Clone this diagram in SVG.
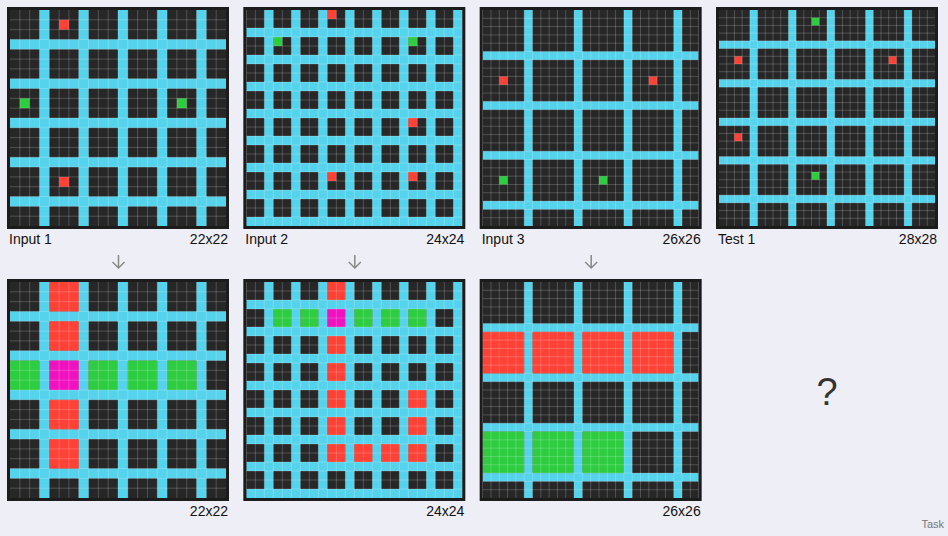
<svg xmlns="http://www.w3.org/2000/svg" xmlns:xlink="http://www.w3.org/1999/xlink" width="948" height="536" viewBox="0 0 948 536">
<style>
.bg{fill:#272727}
.c{fill:#56d3ec}
.r{fill:#ff4136}
.g{fill:#2ecc40}
.m{fill:#f012be}
.gl{fill:none;stroke:#ffffff;stroke-opacity:0.2;stroke-width:1;vector-effect:non-scaling-stroke}
.bd{fill:none;stroke:#1c1c1c;stroke-width:3}
.lbl{font-family:"Liberation Sans",Arial,sans-serif;font-size:14px;fill:#111111}
.arr{fill:none;stroke:#888888;stroke-width:1.5}
</style>
<defs>
<path id="gl22" class="gl" d="M1 0V22M2 0V22M3 0V22M4 0V22M5 0V22M6 0V22M7 0V22M8 0V22M9 0V22M10 0V22M11 0V22M12 0V22M13 0V22M14 0V22M15 0V22M16 0V22M17 0V22M18 0V22M19 0V22M20 0V22M21 0V22M0 1H22M0 2H22M0 3H22M0 4H22M0 5H22M0 6H22M0 7H22M0 8H22M0 9H22M0 10H22M0 11H22M0 12H22M0 13H22M0 14H22M0 15H22M0 16H22M0 17H22M0 18H22M0 19H22M0 20H22M0 21H22"/>
<path id="gl24" class="gl" d="M1 0V24M2 0V24M3 0V24M4 0V24M5 0V24M6 0V24M7 0V24M8 0V24M9 0V24M10 0V24M11 0V24M12 0V24M13 0V24M14 0V24M15 0V24M16 0V24M17 0V24M18 0V24M19 0V24M20 0V24M21 0V24M22 0V24M23 0V24M0 1H24M0 2H24M0 3H24M0 4H24M0 5H24M0 6H24M0 7H24M0 8H24M0 9H24M0 10H24M0 11H24M0 12H24M0 13H24M0 14H24M0 15H24M0 16H24M0 17H24M0 18H24M0 19H24M0 20H24M0 21H24M0 22H24M0 23H24"/>
<path id="gl26" class="gl" d="M1 0V26M2 0V26M3 0V26M4 0V26M5 0V26M6 0V26M7 0V26M8 0V26M9 0V26M10 0V26M11 0V26M12 0V26M13 0V26M14 0V26M15 0V26M16 0V26M17 0V26M18 0V26M19 0V26M20 0V26M21 0V26M22 0V26M23 0V26M24 0V26M25 0V26M0 1H26M0 2H26M0 3H26M0 4H26M0 5H26M0 6H26M0 7H26M0 8H26M0 9H26M0 10H26M0 11H26M0 12H26M0 13H26M0 14H26M0 15H26M0 16H26M0 17H26M0 18H26M0 19H26M0 20H26M0 21H26M0 22H26M0 23H26M0 24H26M0 25H26"/>
<path id="gl28" class="gl" d="M1 0V28M2 0V28M3 0V28M4 0V28M5 0V28M6 0V28M7 0V28M8 0V28M9 0V28M10 0V28M11 0V28M12 0V28M13 0V28M14 0V28M15 0V28M16 0V28M17 0V28M18 0V28M19 0V28M20 0V28M21 0V28M22 0V28M23 0V28M24 0V28M25 0V28M26 0V28M27 0V28M0 1H28M0 2H28M0 3H28M0 4H28M0 5H28M0 6H28M0 7H28M0 8H28M0 9H28M0 10H28M0 11H28M0 12H28M0 13H28M0 14H28M0 15H28M0 16H28M0 17H28M0 18H28M0 19H28M0 20H28M0 21H28M0 22H28M0 23H28M0 24H28M0 25H28M0 26H28M0 27H28"/>
<g id="cy22" class="c">
<rect x="0" y="0" width="22" height="22" class="bg"/>
<rect x="3" y="0" width="1" height="22"/><rect x="7" y="0" width="1" height="22"/><rect x="11" y="0" width="1" height="22"/><rect x="15" y="0" width="1" height="22"/><rect x="19" y="0" width="1" height="22"/>
<rect x="0" y="3" width="22" height="1"/><rect x="0" y="7" width="22" height="1"/><rect x="0" y="11" width="22" height="1"/><rect x="0" y="15" width="22" height="1"/><rect x="0" y="19" width="22" height="1"/>
</g>
<g id="cy24" class="c">
<rect x="0" y="0" width="24" height="24" class="bg"/>
<rect x="2" y="0" width="1" height="24"/><rect x="5" y="0" width="1" height="24"/><rect x="8" y="0" width="1" height="24"/><rect x="11" y="0" width="1" height="24"/><rect x="14" y="0" width="1" height="24"/><rect x="17" y="0" width="1" height="24"/><rect x="20" y="0" width="1" height="24"/><rect x="23" y="0" width="1" height="24"/>
<rect x="0" y="2" width="24" height="1"/><rect x="0" y="5" width="24" height="1"/><rect x="0" y="8" width="24" height="1"/><rect x="0" y="11" width="24" height="1"/><rect x="0" y="14" width="24" height="1"/><rect x="0" y="17" width="24" height="1"/><rect x="0" y="20" width="24" height="1"/><rect x="0" y="23" width="24" height="1"/>
</g>
<g id="cy26" class="c">
<rect x="0" y="0" width="26" height="26" class="bg"/>
<rect x="5" y="0" width="1" height="26"/><rect x="11" y="0" width="1" height="26"/><rect x="17" y="0" width="1" height="26"/><rect x="23" y="0" width="1" height="26"/>
<rect x="0" y="5" width="26" height="1"/><rect x="0" y="11" width="26" height="1"/><rect x="0" y="17" width="26" height="1"/><rect x="0" y="23" width="26" height="1"/>
</g>
<g id="cy28" class="c">
<rect x="0" y="0" width="28" height="28" class="bg"/>
<rect x="4" y="0" width="1" height="28"/><rect x="9" y="0" width="1" height="28"/><rect x="14" y="0" width="1" height="28"/><rect x="19" y="0" width="1" height="28"/><rect x="24" y="0" width="1" height="28"/>
<rect x="0" y="4" width="28" height="1"/><rect x="0" y="9" width="28" height="1"/><rect x="0" y="14" width="28" height="1"/><rect x="0" y="19" width="28" height="1"/><rect x="0" y="24" width="28" height="1"/>
</g>
</defs>
<rect x="0" y="0" width="948" height="536" fill="#eeeef6"/>

<g id="input1">
<g transform="translate(10,10) scale(9.81818)">
<use xlink:href="#cy22"/>
<rect class="r" x="5" y="1" width="1" height="1"/><rect class="r" x="5" y="17" width="1" height="1"/>
<rect class="g" x="1" y="9" width="1" height="1"/><rect class="g" x="17" y="9" width="1" height="1"/>
<use xlink:href="#gl22"/>
</g>
<rect class="bd" x="8.5" y="8.5" width="219" height="219"/>
<text class="lbl" x="9" y="244">Input 1</text>
<text class="lbl" x="228" y="244" text-anchor="end">22x22</text>
</g>

<g id="input2">
<g transform="translate(246.33,10) scale(9)">
<use xlink:href="#cy24"/>
<rect class="r" x="9" y="0" width="1" height="1"/><rect class="r" x="18" y="12" width="1" height="1"/><rect class="r" x="9" y="18" width="1" height="1"/><rect class="r" x="18" y="18" width="1" height="1"/>
<rect class="g" x="3" y="3" width="1" height="1"/><rect class="g" x="18" y="3" width="1" height="1"/>
<use xlink:href="#gl24"/>
</g>
<rect class="bd" x="244.83" y="8.5" width="219" height="219"/>
<text class="lbl" x="245.3" y="244">Input 2</text>
<text class="lbl" x="464.3" y="244" text-anchor="end">24x24</text>
</g>

<g id="input3">
<g transform="translate(482.67,10) scale(8.30769)">
<use xlink:href="#cy26"/>
<rect class="r" x="2" y="8" width="1" height="1"/><rect class="r" x="20" y="8" width="1" height="1"/>
<rect class="g" x="2" y="20" width="1" height="1"/><rect class="g" x="14" y="20" width="1" height="1"/>
<use xlink:href="#gl26"/>
</g>
<rect class="bd" x="481.17" y="8.5" width="219" height="219"/>
<text class="lbl" x="481.7" y="244">Input 3</text>
<text class="lbl" x="700.7" y="244" text-anchor="end">26x26</text>
</g>

<g id="test1">
<g transform="translate(719,10) scale(7.71429)">
<use xlink:href="#cy28"/>
<rect class="r" x="2" y="6" width="1" height="1"/><rect class="r" x="22" y="6" width="1" height="1"/><rect class="r" x="2" y="16" width="1" height="1"/>
<rect class="g" x="12" y="1" width="1" height="1"/><rect class="g" x="12" y="21" width="1" height="1"/>
<use xlink:href="#gl28"/>
</g>
<rect class="bd" x="717.5" y="8.5" width="219" height="219"/>
<text class="lbl" x="718" y="244">Test 1</text>
<text class="lbl" x="937" y="244" text-anchor="end">28x28</text>
</g>

<g id="output1">
<g transform="translate(10,282) scale(9.81818)">
<use xlink:href="#cy22"/>
<rect class="r" x="4" y="0" width="3" height="3"/><rect class="r" x="4" y="4" width="3" height="3"/><rect class="r" x="4" y="12" width="3" height="3"/><rect class="r" x="4" y="16" width="3" height="3"/>
<rect class="m" x="4" y="8" width="3" height="3"/>
<rect class="g" x="0" y="8" width="3" height="3"/><rect class="g" x="8" y="8" width="3" height="3"/><rect class="g" x="12" y="8" width="3" height="3"/><rect class="g" x="16" y="8" width="3" height="3"/>
<use xlink:href="#gl22"/>
</g>
<rect class="bd" x="8.5" y="280.5" width="219" height="219"/>
<text class="lbl" x="228" y="516" text-anchor="end">22x22</text>
</g>

<g id="output2">
<g transform="translate(246.33,282) scale(9)">
<use xlink:href="#cy24"/>
<rect class="r" x="9" y="0" width="2" height="2"/><rect class="r" x="9" y="6" width="2" height="2"/><rect class="r" x="9" y="9" width="2" height="2"/><rect class="r" x="9" y="12" width="2" height="2"/><rect class="r" x="9" y="15" width="2" height="2"/><rect class="r" x="9" y="18" width="2" height="2"/>
<rect class="r" x="12" y="18" width="2" height="2"/><rect class="r" x="15" y="18" width="2" height="2"/><rect class="r" x="18" y="18" width="2" height="2"/><rect class="r" x="18" y="15" width="2" height="2"/><rect class="r" x="18" y="12" width="2" height="2"/>
<rect class="m" x="9" y="3" width="2" height="2"/>
<rect class="g" x="3" y="3" width="2" height="2"/><rect class="g" x="6" y="3" width="2" height="2"/><rect class="g" x="12" y="3" width="2" height="2"/><rect class="g" x="15" y="3" width="2" height="2"/><rect class="g" x="18" y="3" width="2" height="2"/>
<use xlink:href="#gl24"/>
</g>
<rect class="bd" x="244.83" y="280.5" width="219" height="219"/>
<text class="lbl" x="464.3" y="516" text-anchor="end">24x24</text>
</g>

<g id="output3">
<g transform="translate(482.67,282) scale(8.30769)">
<use xlink:href="#cy26"/>
<rect class="r" x="0" y="6" width="5" height="5"/><rect class="r" x="6" y="6" width="5" height="5"/><rect class="r" x="12" y="6" width="5" height="5"/><rect class="r" x="18" y="6" width="5" height="5"/>
<rect class="g" x="0" y="18" width="5" height="5"/><rect class="g" x="6" y="18" width="5" height="5"/><rect class="g" x="12" y="18" width="5" height="5"/>
<use xlink:href="#gl26"/>
</g>
<rect class="bd" x="481.17" y="280.5" width="219" height="219"/>
<text class="lbl" x="700.7" y="516" text-anchor="end">26x26</text>
</g>

<g id="unknown">
<text x="827" y="405" text-anchor="middle" font-family="Liberation Sans, Arial, sans-serif" font-size="38" fill="#333333">?</text>
</g>

<g id="connectors">
<path class="arr" d="M118.5 255V268M112.5 262L118.5 268L124.5 262"/>
<path class="arr" d="M354.8 255V268M348.8 262L354.8 268L360.8 262"/>
<path class="arr" d="M591.2 255V268M585.2 262L591.2 268L597.2 262"/>
</g>

<text x="944" y="528" text-anchor="end" font-family="Liberation Sans, Arial, sans-serif" font-size="11" fill="#777777">Task</text>
</svg>
